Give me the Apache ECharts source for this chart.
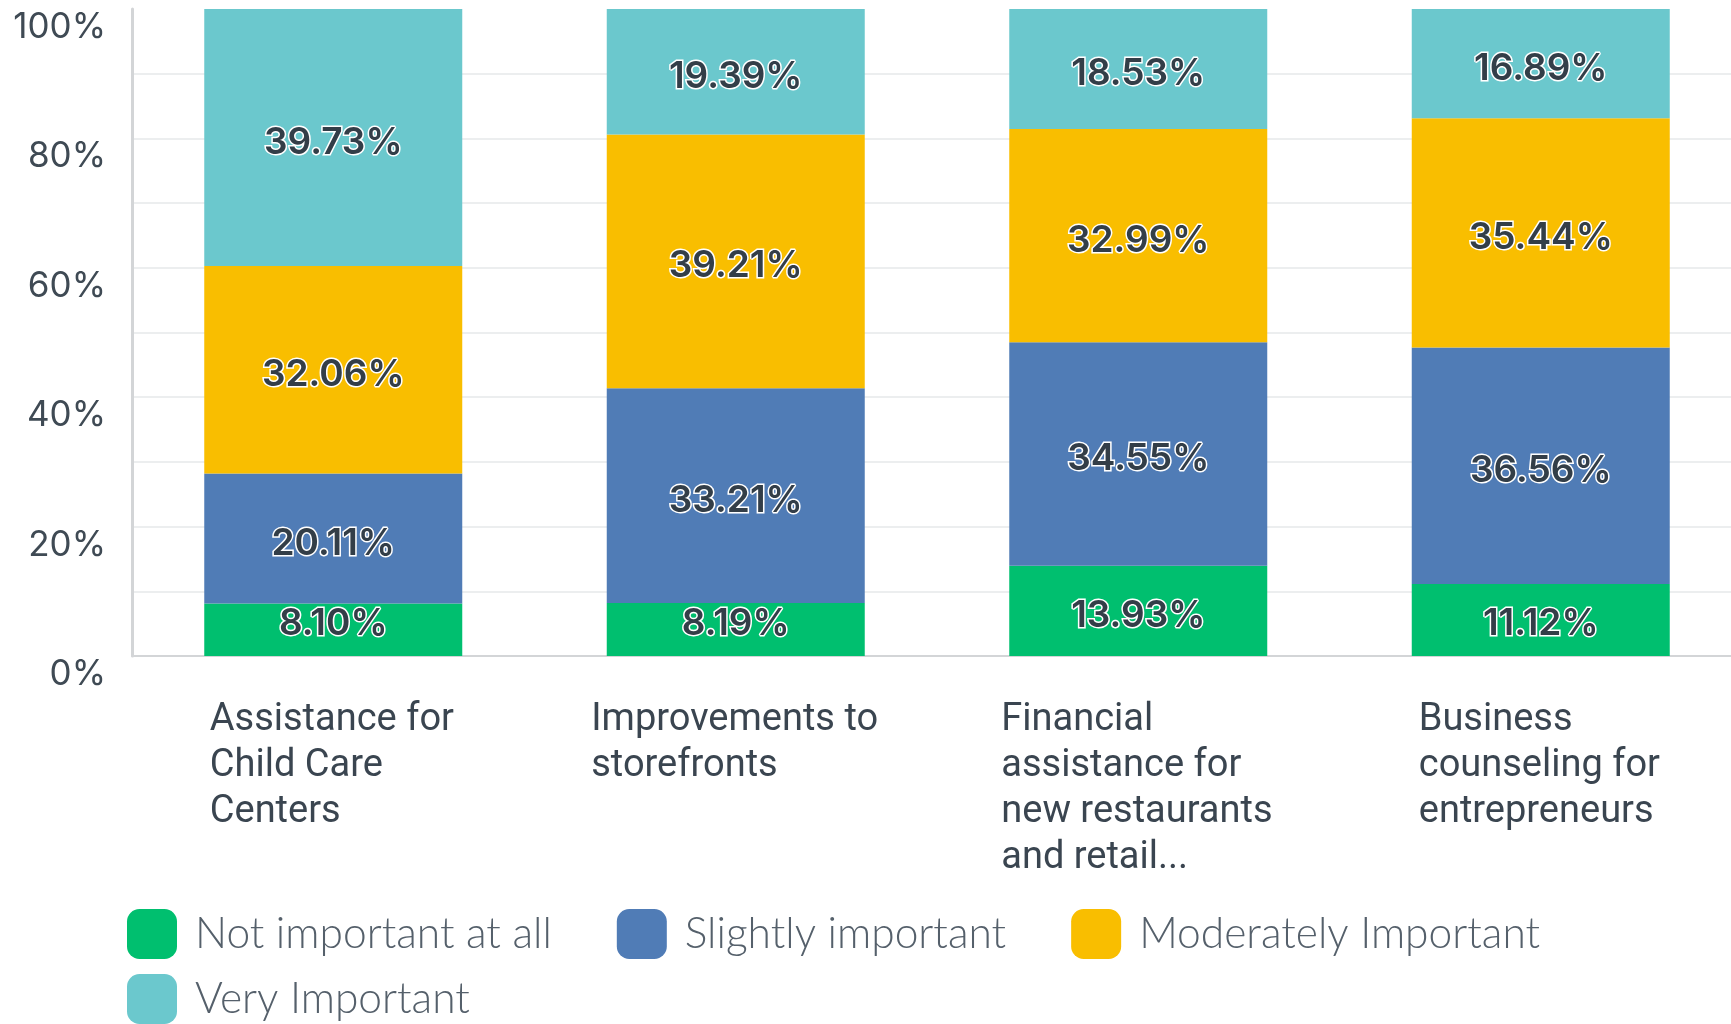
<!DOCTYPE html>
<html>
<head>
<meta charset="utf-8">
<script src="https://cdn.jsdelivr.net/npm/echarts@6/dist/echarts.min.js"></script>
<style>
  html, body { margin: 0; padding: 0; background: #fff; }
  #chart { width: 1731px; height: 1024px; }
</style>
</head>
<body>
<div id="chart"></div>
<script>
const categories = [
  'Assistance for\nChild Care\nCenters',
  'Improvements to\nstorefronts',
  'Financial\nassistance for\nnew restaurants\nand retail...',
  'Business\ncounseling for\nentrepreneurs'
];
const seriesNames = ['Not important at all', 'Slightly important', 'Moderately Important', 'Very Important'];
const notImportant = [8.10, 8.19, 13.93, 11.12];
const slightlyImportant = [20.11, 33.21, 34.55, 36.56];
const moderatelyImportant = [32.06, 39.21, 32.99, 35.44];
const veryImportant = [39.73, 19.39, 18.53, 16.89];
const yTicks = [0, 20, 40, 60, 80, 100];

const colors = ['#00bf6f', '#507cb6', '#f9be00', '#6bc8cd'];
const textDark = '#333e48';
const catFont = 'Roboto';
const catSize = 38;

// measure widest line of each category so the block is centred but lines are left aligned
const ctx = document.createElement('canvas').getContext('2d');
ctx.font = catSize + 'px ' + catFont;
const rich = {};
categories.forEach((c, i) => {
  const w = Math.max(...c.split('\n').map(l => ctx.measureText(l).width));
  rich['c' + i] = {
    width: Math.ceil(w) + 2, align: 'left', fontSize: catSize, lineHeight: 46,
    fontFamily: catFont, color: '#3a4550'
  };
});

const myChart = echarts.init(document.querySelector('#chart'));
const allData = [notImportant, slightlyImportant, moderatelyImportant, veryImportant];

const legendText = { fontFamily: 'Lato', fontWeight: 300, fontSize: 42.5, color: '#55606b', padding: [0, 0, 0, 13] };

myChart.setOption({
  animation: false,
  grid: { left: 132, right: -11, top: 9, bottom: 368, containLabel: false, outerBoundsMode: 'none' },
  legend: [
    {
      data: seriesNames.slice(0, 3), left: 127, top: 909, padding: 0, itemGap: 65,
      itemWidth: 50, itemHeight: 50, icon: 'roundRect', textStyle: legendText
    },
    {
      data: seriesNames.slice(3), left: 127, top: 974, padding: 0,
      itemWidth: 50, itemHeight: 50, icon: 'roundRect', textStyle: legendText
    }
  ],
  xAxis: {
    type: 'category',
    data: categories,
    axisLine: { lineStyle: { color: '#d3d5d7', width: 2 } },
    axisTick: { show: false },
    axisLabel: {
      interval: 0, margin: 41,
      formatter: (v, i) => '{c' + i + '|' + v + '}',
      rich: rich
    }
  },
  yAxis: {
    type: 'value', min: 0, max: 100, interval: 10,
    axisLine: { show: true, lineStyle: { color: '#d3d5d7', width: 3 } },
    axisTick: { show: false },
    splitLine: { showMaxLine: false, lineStyle: { color: '#eceeef', width: 2 } },
    axisLabel: {
      margin: 26, verticalAlign: 'top', lineHeight: 37,
      fontFamily: 'Inter', fontSize: 35, color: '#3f4a54',
      formatter: v => yTicks.includes(v) ? v + '%' : ''
    }
  },
  series: seriesNames.map((name, k) => ({
    name: name,
    type: 'bar',
    stack: 'total',
    barWidth: 258,
    itemStyle: { color: colors[k] },
    label: {
      show: true, position: 'inside', offset: [0, 5],
      formatter: p => p.value.toFixed(2) + '%',
      fontFamily: 'Inter', fontWeight: 600, fontSize: 37, color: textDark,
      textBorderColor: '#fff', textBorderWidth: 3
    },
    // short segments keep their label clear of the axis
    data: allData[k].map(v => v < 12
      ? { value: v, label: { position: 'insideBottom', distance: 14, offset: [0, 0] } }
      : v)
  }))
});
</script>
</body>
</html>
